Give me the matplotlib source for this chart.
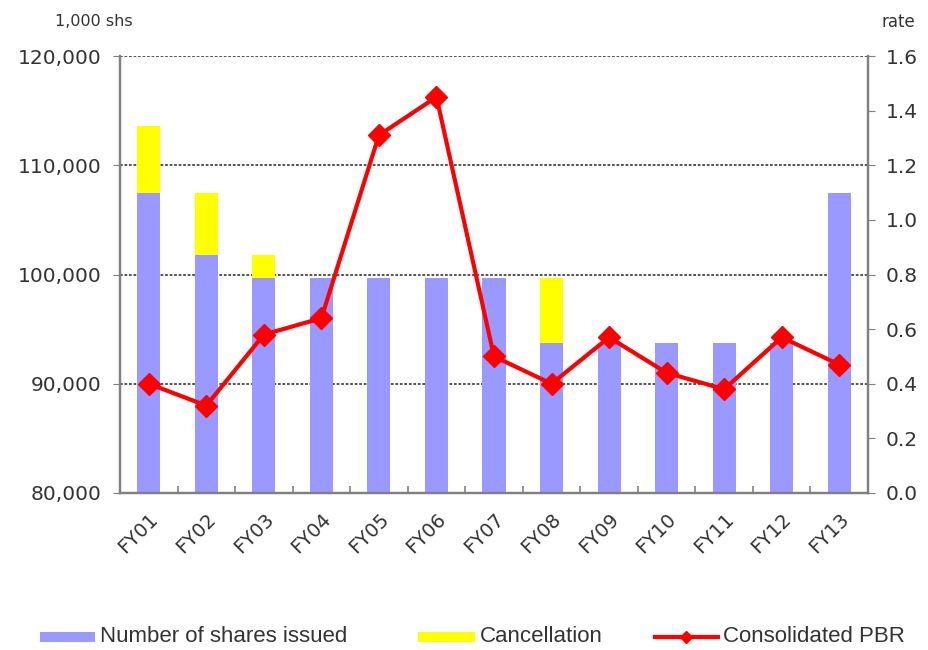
import matplotlib
matplotlib.use("Agg")
import matplotlib.pyplot as plt
import numpy as np
from matplotlib.patches import Rectangle
from matplotlib.lines import Line2D

years = ["FY01", "FY02", "FY03", "FY04", "FY05", "FY06", "FY07",
         "FY08", "FY09", "FY10", "FY11", "FY12", "FY13"]
shares_issued = [107460, 101800, 99700, 99700, 99700, 99700, 99700,
                 93730, 93730, 93730, 93730, 93730, 107460]
cancellation = [6100, 5660, 2100, 0, 0, 0, 0,
                5970, 0, 0, 0, 0, 0]
pbr = [0.40, 0.32, 0.58, 0.64, 1.31, 1.45, 0.50,
       0.40, 0.57, 0.44, 0.38, 0.57, 0.47]

left_ticks = [80000, 90000, 100000, 110000, 120000]
right_ticks = [0.0, 0.2, 0.4, 0.6, 0.8, 1.0, 1.2, 1.4, 1.6]

W, H = 929, 650
fig = plt.figure(figsize=(W / 100, H / 100), dpi=100)
ax = fig.add_axes([120 / W, (H - 493) / H, 748 / W, 437 / H])
ax2 = ax.twinx()

blue = "#9999ff"
yellow = "#ffff00"
red = "#ff0000"
txt = "#333333"
spine_c = "#808080"

x = np.arange(len(years))
ax.bar(x, shares_issued, width=0.4, color=blue, zorder=2)
ax.bar(x, cancellation, width=0.4, bottom=shares_issued, color=yellow, zorder=2)

ax.set_xlim(-0.5, len(years) - 0.5)
ax.set_ylim(80000, 120000)
ax.set_yticks(left_ticks)
ax.set_yticklabels([f"{v:,}" for v in left_ticks])
for v in left_ticks[1:]:
    ax.axhline(v, color="#444444", lw=1.3, ls=(0, (1.5, 1)), zorder=1)

ax.set_xticks(x)
ax.set_xticklabels(years, rotation=45, ha="right", rotation_mode="anchor")
ax.set_xticks(np.arange(-0.5, len(years) + 0.5, 1), minor=True)
ax.tick_params(axis="x", which="major", length=0, pad=12, labelsize=14, labelcolor=txt)
ax.tick_params(axis="x", which="minor", direction="in", length=5, color=spine_c, width=1.2)
ax.tick_params(axis="y", which="major", direction="out", length=5, color=spine_c,
               labelsize=14.5, labelcolor=txt, pad=8)

ax2.plot(x, pbr, color=red, lw=3, marker="D", markersize=11, zorder=5)
ax2.set_ylim(0, 1.6)
ax2.set_yticks(right_ticks)
ax2.set_yticklabels([f"{v:.1f}" for v in right_ticks])
ax2.tick_params(axis="y", direction="out", length=5, color=spine_c,
                labelsize=14.5, labelcolor=txt, pad=8)

for a in (ax, ax2):
    a.spines["top"].set_visible(False)
    for s in ("left", "right", "bottom"):
        a.spines[s].set_color(spine_c)
        a.spines[s].set_linewidth(1.6)

fig.text(55 / W, 1 - 22 / H, "1,000 shs", fontsize=11.5, color=txt, va="center", ha="left")
fig.text(915 / W, 1 - 22 / H, "rate", fontsize=12, color=txt, va="center", ha="right")

# legend drawn in figure pixel coordinates
ly = 1 - 637 / H
lfont = dict(fontsize=16, color=txt, va="center", ha="left", family="Liberation Sans")
fig.patches.append(Rectangle((40 / W, ly - 5 / H), 55 / W, 10 / H, transform=fig.transFigure,
                             facecolor=blue, edgecolor="none"))
fig.text(100 / W, ly, "Number of shares issued", **lfont)
fig.patches.append(Rectangle((418 / W, ly - 5 / H), 57 / W, 10 / H, transform=fig.transFigure,
                             facecolor=yellow, edgecolor="none"))
fig.text(480 / W, ly, "Cancellation", **lfont)
fig.lines.append(Line2D([655 / W, 718 / W], [ly, ly], transform=fig.transFigure,
                        color=red, lw=3))
fig.lines.append(Line2D([686 / W], [ly], transform=fig.transFigure,
                        color=red, marker="D", markersize=6, lw=0))
fig.text(723 / W, ly, "Consolidated PBR", **lfont)

fig.savefig("out.png", dpi=100)
